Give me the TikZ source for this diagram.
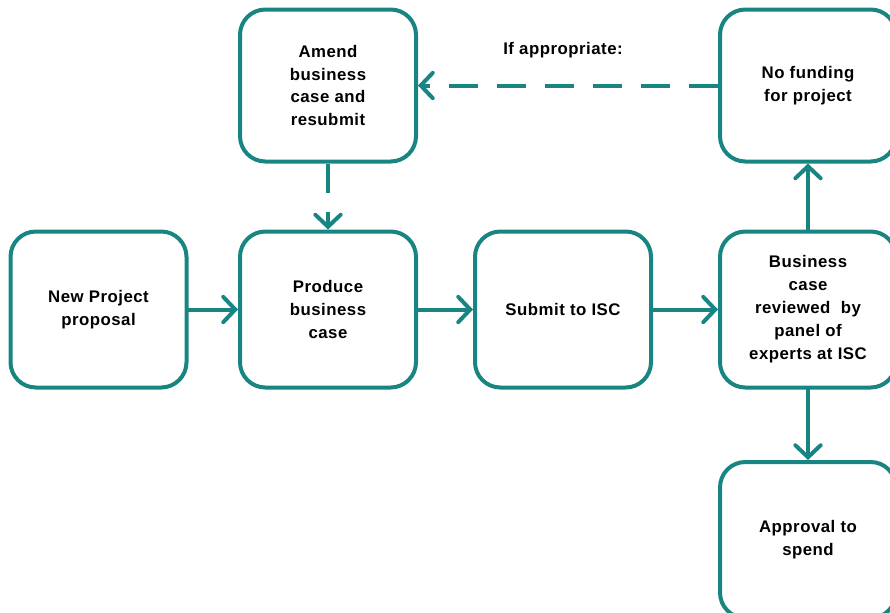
\documentclass[tikz,border=0pt]{standalone}
\usepackage{fontspec}
\setmainfont[LetterSpace=3]{Liberation Sans}
\usepackage{tikz}
\usetikzlibrary{arrows.meta, positioning}
\usepackage{xcolor}
\definecolor{iscteal}{RGB}{24,133,131}

\begin{document}
\begin{tikzpicture}[x=0.75pt, y=-0.75pt,
    box/.style={draw=iscteal, line width=3pt, rounded corners=19pt, fill=white,
        minimum width=132pt, minimum height=117pt, align=center,
        font=\fontsize{12.6}{17.2}\selectfont\bfseries},
    flow/.style={draw=iscteal, line width=3pt, line cap=round,
        -{Straight Barb[length=9pt, width=19pt, line width=3pt, line cap=round]}},
    dashflow/.style={flow, line cap=butt, dash pattern=on 22pt off 14pt}]
        % Frame
        \useasboundingbox (0,0) rectangle (890,612);
        \clip (0,0) rectangle (890,612);
        % Boxes
        \node[box] (proposal) at (98.5,309.5) {New Project\\proposal};
        \node[box] (produce) at (328,309.5) {Produce\\business\\case};
        \node[box] (submit) at (563,309.5) {Submit to ISC};
        \node[box] (review) at (808,309.5) {Business\\case\\reviewed\ \ by\\panel of\\experts at ISC};
        \node[box, minimum height=114pt] (amend) at (328,85.5) {Amend\\business\\case and\\resubmit};
        \node[box, minimum height=114pt] (nofund) at (808,85.5) {No funding\\for project};
        \node[box] (approve) at (808,540) {Approval to\\spend};
        % Label
        \node[font=\fontsize{12.6}{17.2}\selectfont\bfseries] (cond) at (563,50) {If appropriate:};
        % Main flow
        \draw[flow] (proposal) -- (produce);
        \draw[flow] (produce) -- (submit);
        \draw[flow] (submit) -- (review);
        \draw[flow] (review) -- (nofund);
        \draw[flow] (review) -- (approve);
        % Resubmission loop
        \draw[dashflow] (nofund) -- (amend);
        \draw[dashflow] (amend) -- (produce);
    \end{tikzpicture}
\end{document}
